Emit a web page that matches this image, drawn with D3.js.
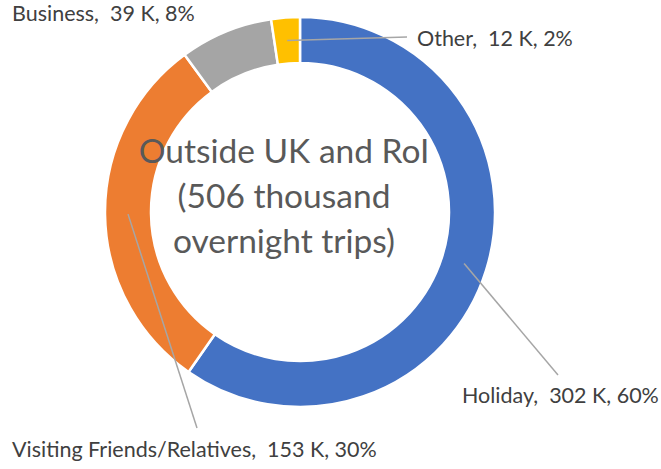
<!DOCTYPE html>
<html>
<head>
<meta charset="utf-8">
<script src="https://cdn.jsdelivr.net/npm/d3@7"></script>
<style>
  body { margin: 0; background: #fff; }
  text { font-family: Lato, "Open Sans", sans-serif; }
</style>
</head>
<body>
<svg width="661" height="469"></svg>
<script>
// data
var categories = ["Holiday", "Visiting Friends/Relatives", "Business", "Other"];
var trips = [302, 153, 39, 12];           // thousand overnight trips
var percents = [60, 30, 8, 2];
var colours = ["#4472C4", "#ED7D31", "#A5A5A5", "#FFC000"];
var centreLines = ["Outside UK and RoI", "(506 thousand", "overnight trips)"];

// label layout: anchor of text + end of leader line (null = no leader)
var labelPos = [
  {x: 462, y: 403, lx: 558, ly: 375},
  {x: 12, y: 457, lx: 197, ly: 428},
  {x: 12, y: 21, lx: null, ly: null},
  {x: 417, y: 46, lx: 407, ly: 37}
];

var svg = d3.select("svg");
var cx = 300, cy = 212, outerR = 195, innerR = 149;

var slices = categories.map(function(c, i) {
  return {name: c, value: trips[i], pct: percents[i], colour: colours[i], pos: labelPos[i]};
});

var pie = d3.pie().sort(null).value(function(d) { return d.value; });
var arc = d3.arc().innerRadius(innerR).outerRadius(outerR);

var g = svg.append("g").attr("transform", "translate(" + cx + "," + cy + ")");

var arcs = pie(slices);

g.selectAll("path.slice")
  .data(arcs)
  .enter().append("path")
    .attr("class", "slice")
    .attr("d", arc)
    .attr("fill", function(d) { return d.data.colour; })
    .attr("stroke", "#fff")
    .attr("stroke-width", 2.5);

// leader lines from the middle of each ring segment
g.selectAll("line.leader")
  .data(arcs.filter(function(d) { return d.data.pos.lx !== null; }))
  .enter().append("line")
    .attr("class", "leader")
    .attr("x1", function(d) { return arc.centroid(d)[0]; })
    .attr("y1", function(d) { return arc.centroid(d)[1]; })
    .attr("x2", function(d) { return d.data.pos.lx - cx; })
    .attr("y2", function(d) { return d.data.pos.ly - cy; })
    .attr("stroke", "#A6A6A6")
    .attr("stroke-width", 1.5);

// data labels
svg.selectAll("text.label")
  .data(slices)
  .enter().append("text")
    .attr("class", "label")
    .attr("x", function(d) { return d.pos.x; })
    .attr("y", function(d) { return d.pos.y; })
    .attr("fill", "#404040")
    .style("font-size", "21.5px")
    .style("white-space", "pre")
    .text(function(d) { return d.name + ",  " + d.value + " K, " + d.pct + "%"; });

// centre title
svg.append("text")
  .attr("text-anchor", "middle")
  .attr("fill", "#595959")
  .style("font-size", "33.5px")
  .selectAll("tspan")
  .data(centreLines)
  .enter().append("tspan")
    .attr("x", 284)
    .attr("y", function(d, i) { return 163 + i * 45; })
    .text(function(d) { return d; });
</script>
</body>
</html>
